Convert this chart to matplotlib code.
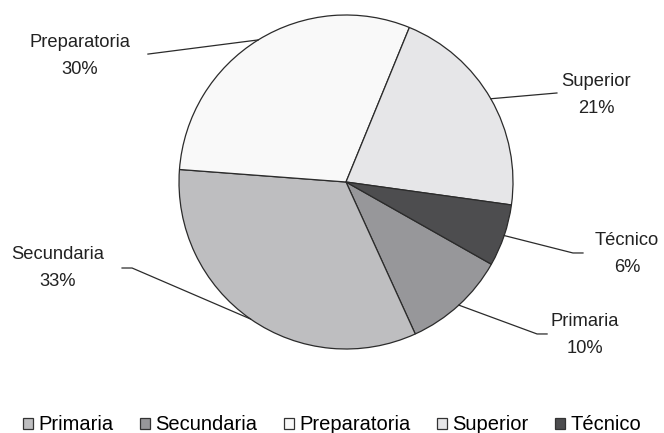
import matplotlib.pyplot as plt
import numpy as np

plt.rcParams['font.family'] = ['Liberation Sans', 'DejaVu Sans']

# nivel de estudios (%)
niveles = ['Primaria', 'Secundaria', 'Preparatoria', 'Superior', 'Técnico']
porcentajes = [10, 33, 30, 21, 6]

colores_pie = ['#97979a', '#bebec0', '#f9f9f9', '#e6e6e8', '#4d4d4f']
colores_leyenda = ['#bebec0', '#97979a', '#f9f9f9', '#e6e6e8', '#4d4d4f']

# posicion de cada etiqueta y punto de arranque de su linea guia
pos_texto = {
    'Primaria': (1.431, -0.916),
    'Secundaria': (-1.728, -0.515),
    'Preparatoria': (-1.593, 0.754),
    'Superior': (1.497, 0.521),
    'Técnico': (1.683, -0.431),
}
pos_linea = {
    'Primaria': (1.204, -0.910),
    'Secundaria': (-1.341, -0.515),
    'Preparatoria': (-1.186, 0.766),
    'Superior': (1.263, 0.533),
    'Técnico': (1.419, -0.425),
}

fig = plt.figure(figsize=(6.64, 4.33), dpi=100)
ax = fig.add_axes([0, 0, 1, 1])

wedges, _ = ax.pie(porcentajes, colors=colores_pie, startangle=-29.5,
                   counterclock=False, radius=1.0,
                   wedgeprops=dict(edgecolor='#2b2b2b', linewidth=0.9))

for w, nombre, p in zip(wedges, niveles, porcentajes):
    ang = np.deg2rad((w.theta1 + w.theta2) / 2)
    ex, ey = np.cos(ang), np.sin(ang)
    lx, ly = pos_linea[nombre]
    if ly < 0:
        # tramo horizontal corto antes de ir al borde
        codo = lx - 0.06 if lx > 0 else lx + 0.06
        ax.plot([lx, codo, ex], [ly, ly, ey], color='#2b2b2b', linewidth=0.9)
    else:
        ax.plot([lx, ex], [ly, ey], color='#2b2b2b', linewidth=0.9)
    tx, ty = pos_texto[nombre]
    ax.text(tx, ty, f'{nombre}\n{p}%', ha='center', va='center',
            fontsize=13.2, color='#222222', linespacing=1.8)

ax.set_aspect('auto')
ax.set_xlim(-346 / 167, (664 - 346) / 167)
ax.set_ylim(-(433 - 182) / 167, 182 / 167)
ax.axis('off')

handles = [plt.Rectangle((0, 0), 1, 1, facecolor=c, edgecolor='#333333', linewidth=0.9)
           for c in colores_leyenda]
fig.legend(handles, niveles, loc='center', bbox_to_anchor=(0.5, (433 - 425) / 433),
           ncol=5, frameon=False, fontsize=14.5, handlelength=0.5, handleheight=0.5,
           handletextpad=0.25, columnspacing=1.33, borderaxespad=0)

fig.savefig('out.png', dpi=100)
